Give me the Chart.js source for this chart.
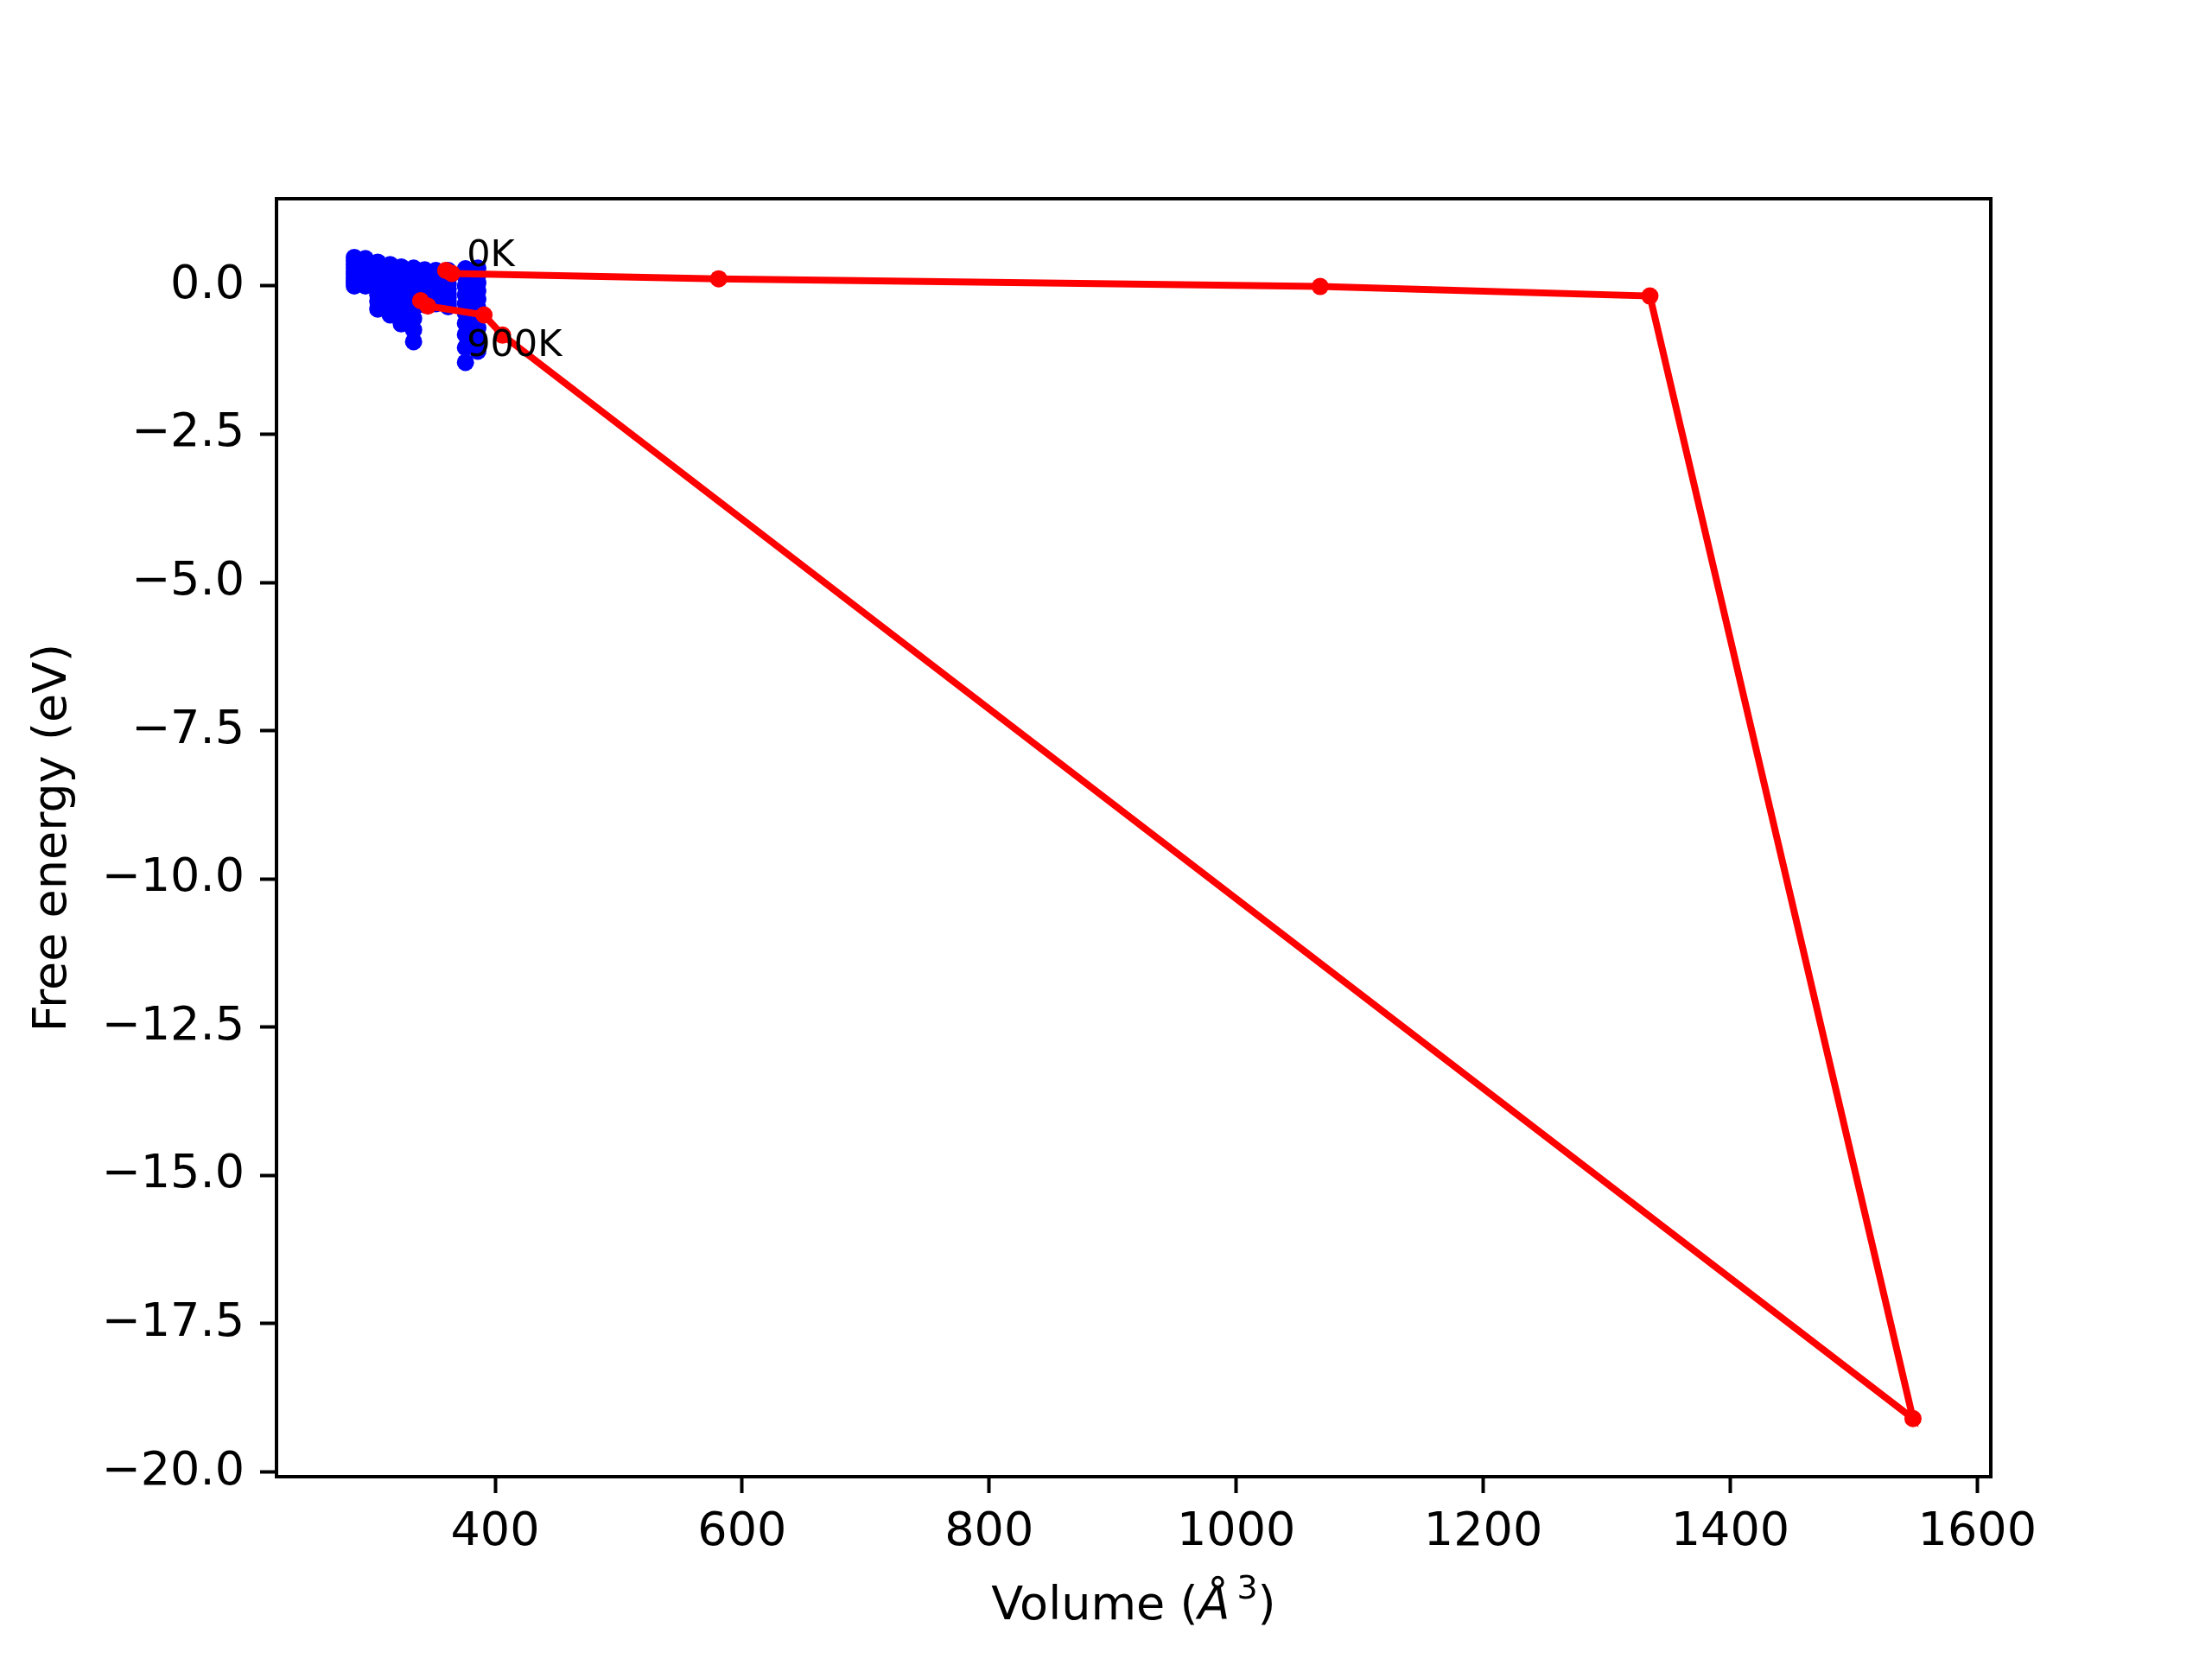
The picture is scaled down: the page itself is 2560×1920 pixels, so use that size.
<!DOCTYPE html>
<html>
<head>
<meta charset="utf-8">
<script src="https://cdn.jsdelivr.net/npm/chart.js@4.4.0/dist/chart.umd.min.js"></script>
<style>
  html, body { margin: 0; padding: 0; background: #fff; }
  canvas { display: block; }
</style>
</head>
<body>
<canvas id="chart" width="2560" height="1920"></canvas>
<script>
// volumes of the sampled cells (A^3)
const volumes = [286, 295, 305, 315, 324, 334, 343, 352, 362, 376, 386];

// free energy at each volume, one row per temperature (eV)
const f0K   = [0.48, 0.46, 0.40, 0.36, 0.32, 0.30, 0.27, 0.26, 0.26, 0.29, 0.30];
const f100K = [0.42, 0.40, 0.33, 0.29, 0.25, 0.22, 0.20, 0.19, 0.19, 0.15, 0.18];
const f200K = [0.36, 0.34, 0.26, 0.21, 0.17, 0.12, 0.13, 0.12, 0.11, 0.00, 0.05];
const f300K = [0.30, 0.28, 0.19, 0.13, 0.08, 0.02, 0.06, 0.05, 0.03, -0.15, -0.08];
const f400K = [0.24, 0.22, 0.12, 0.05, -0.02, -0.10, -0.01, -0.02, -0.05, -0.30, -0.22];
const f500K = [0.19, 0.17, 0.04, -0.04, -0.13, -0.23, -0.08, -0.09, -0.13, -0.46, -0.37];
const f600K = [0.14, 0.13, -0.05, -0.14, -0.25, -0.38, -0.15, -0.16, -0.20, -0.63, -0.53];
const f700K = [0.09, 0.08, -0.15, -0.25, -0.37, -0.55, -0.21, -0.22, -0.26, -0.82, -0.71];
const f800K = [0.05, 0.04, -0.26, -0.37, -0.50, -0.74, -0.27, -0.26, -0.31, -1.04, -0.90];
const f900K = [0.00, 0.00, -0.39, -0.49, -0.64, -0.94, -0.32, -0.30, -0.35, -1.29, -1.10];
const curves = [f0K, f100K, f200K, f300K, f400K, f500K, f600K, f700K, f800K, f900K];

// equilibrium points, 0K .. 900K
const minVolumes = [360, 365, 581, 1068, 1335, 1548, 406, 391, 345.5, 339.7];
const minEnergies = [0.26, 0.21, 0.12, -0.01, -0.17, -19.1, -0.83, -0.49, -0.34, -0.25];

// text labels
const labelTexts = ['0K', '900K'];
const labelVolumes = [377, 377];
const labelEnergies = [0.34, -1.18];

const xTicks = [400, 600, 800, 1000, 1200, 1400, 1600];
const yTicks = [0, -2.5, -5, -7.5, -10, -12.5, -15, -17.5, -20];

const FONT = 'DejaVu Sans';

const datasets = [{
    label: 'minimum',
    data: minVolumes.map((v, i) => ({ x: v, y: minEnergies[i] })),
    showLine: true,
    borderColor: '#ff0000',
    borderWidth: 8,
    pointRadius: 10,
    pointBorderWidth: 0,
    pointBackgroundColor: '#ff0000',
    order: 0
}];
curves.forEach(function (c, k) {
    datasets.push({
        label: (k * 100) + 'K',
        data: volumes.map((v, i) => ({ x: v, y: c[i] })),
        showLine: false,
        pointRadius: 10,
        pointBorderWidth: 0,
        pointBackgroundColor: '#0000ff',
        order: 1
    });
});

const extras = {
    id: 'extras',
    afterDatasetsDraw(chart) {
        const ctx = chart.ctx;
        const a = chart.chartArea;
        const xs = chart.scales.x, ys = chart.scales.y;
        ctx.save();
        ctx.fillStyle = '#000';
        ctx.font = '43px "' + FONT + '"';
        ctx.textAlign = 'left';
        ctx.textBaseline = 'alphabetic';
        labelTexts.forEach(function (t, i) {
            ctx.fillText(t, xs.getPixelForValue(labelVolumes[i]), ys.getPixelForValue(labelEnergies[i]));
        });
        ctx.strokeStyle = '#000';
        ctx.lineWidth = 4;
        ctx.strokeRect(a.left, a.top, a.right - a.left, a.bottom - a.top);

        // y title
        ctx.save();
        ctx.translate(76, (a.top + a.bottom) / 2);
        ctx.rotate(-Math.PI / 2);
        ctx.textAlign = 'center';
        ctx.font = '54px "' + FONT + '"';
        ctx.fillText('Free energy (eV)', 0, 0);
        ctx.restore();

        // x title: Volume (Å^3) with italic Å and superscript
        const parts = [
            { t: 'Volume (', f: '54px "' + FONT + '"', dy: 0 },
            { t: 'Å', f: 'oblique 54px "' + FONT + '"', dy: 0 },
            { t: '3', f: '38px "' + FONT + '"', dy: -24 },
            { t: ')', f: '54px "' + FONT + '"', dy: 0 }
        ];
        let total = 0;
        parts.forEach(function (p) { ctx.font = p.f; p.w = ctx.measureText(p.t).width; total += p.w; });
        total += 8;
        let x = (a.left + a.right) / 2 - total / 2;
        ctx.textAlign = 'left';
        parts.forEach(function (p, i) {
            ctx.font = p.f;
            ctx.fillText(p.t, x, 1874 + p.dy);
            x += p.w + (i === 1 ? 8 : 0);
        });
        ctx.restore();
    }
};

new Chart(document.getElementById('chart').getContext('2d'), {
    type: 'scatter',
    data: { datasets: datasets },
    options: {
        responsive: false,
        animation: false,
        devicePixelRatio: 1,
        layout: { padding: { left: 0, top: 230, right: 256, bottom: 0 } },
        plugins: {
            legend: { display: false },
            tooltip: { enabled: false }
        },
        scales: {
            x: {
                type: 'linear',
                min: 223,
                max: 1611,
                afterBuildTicks: function (s) { s.ticks = xTicks.map(v => ({ value: v })); },
                afterFit: function (s) { s.height = 211; },
                border: { display: true, color: '#000', width: 4 },
                grid: { display: true, drawOnChartArea: false, drawTicks: true, tickLength: 19, tickWidth: 4, tickColor: '#000' },
                ticks: {
                    padding: 14,
                    color: '#000',
                    maxRotation: 0,
                    font: { family: FONT, size: 54 },
                    callback: function (v) { return String(v); }
                }
            },
            y: {
                type: 'linear',
                min: -20.08,
                max: 1.47,
                afterBuildTicks: function (s) { s.ticks = yTicks.map(v => ({ value: v })); },
                afterFit: function (s) { s.width = 320; },
                border: { display: true, color: '#000', width: 4 },
                grid: { display: true, drawOnChartArea: false, drawTicks: true, tickLength: 19, tickWidth: 4, tickColor: '#000' },
                ticks: {
                    padding: 18,
                    color: '#000',
                    font: { family: FONT, size: 54 },
                    callback: function (v) { return (v < 0 ? '\u2212' : '') + Math.abs(v).toFixed(1); }
                }
            }
        }
    },
    plugins: [extras]
});
</script>
</body>
</html>
